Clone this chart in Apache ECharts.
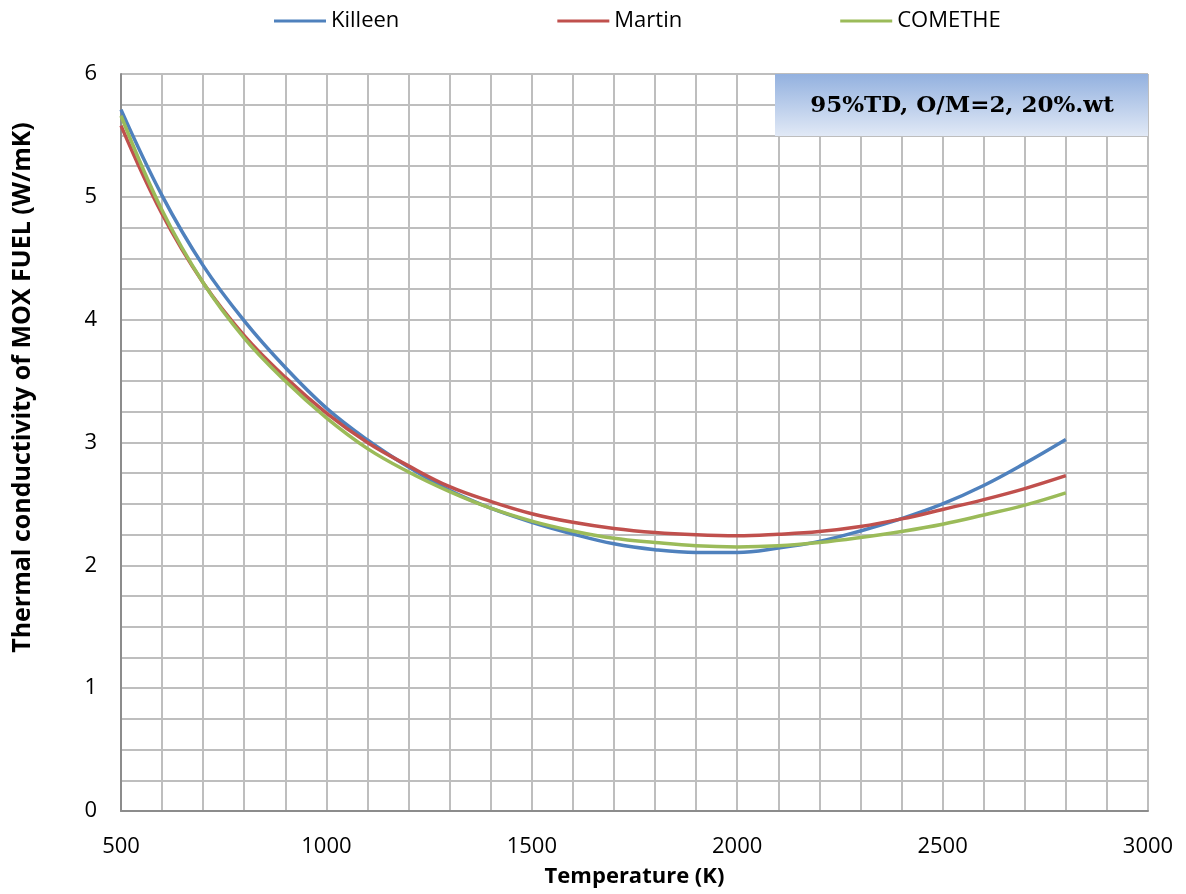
<!DOCTYPE html>
<html>
<head>
<meta charset="utf-8">
<script src="https://cdn.jsdelivr.net/npm/echarts@6/dist/echarts.min.js"></script>
<style>
html,body{margin:0;padding:0;background:#fff;}
#chart{width:1186px;height:894px;}
</style>
</head>
<body>
<div id="chart"></div>
<script>
const temperatures = [500,600,700,800,900,1000,1100,1200,1300,1400,1500,1600,1700,1800,1900,2000,2100,2200,2300,2400,2500,2600,2700,2800];
const killeen = [5.71,5.01,4.44,3.99,3.61,3.28,3.02,2.80,2.61,2.465,2.35,2.255,2.175,2.127,2.105,2.105,2.14,2.195,2.28,2.38,2.50,2.65,2.83,3.025];
const martin  = [5.58,4.86,4.30,3.87,3.53,3.24,3.00,2.81,2.64,2.52,2.42,2.35,2.30,2.267,2.248,2.24,2.253,2.275,2.316,2.378,2.455,2.535,2.625,2.73];
const comethe = [5.66,4.89,4.30,3.85,3.50,3.20,2.95,2.76,2.60,2.465,2.36,2.28,2.22,2.186,2.159,2.15,2.159,2.186,2.227,2.276,2.335,2.41,2.49,2.59];
const seriesNames = ['Killeen','Martin','COMETHE'];
const seriesColors = ['#4F81BD','#C0504D','#9BBB59'];
const xTickLabels = [500,1000,1500,2000,2500,3000];
const yTickLabels = [0,1,2,3,4,5,6];
const annotationText = '95%TD, O/M=2, 20%.wt';

const allSeries = [killeen, martin, comethe];
const FONT = 'Open Sans';

const chart = echarts.init(document.getElementById('chart'));
chart.setOption({
  backgroundColor: '#ffffff',
  animation: false,
  legend: {
    top: 5,
    left: 269,
    icon: 'rect',
    itemWidth: 52,
    itemHeight: 3,
    itemGap: 158,
    textStyle: { fontFamily: FONT, fontSize: 22, color: '#000' },
    data: seriesNames
  },
  grid: { left: 121, right: 38, top: 74, bottom: 83 },
  xAxis: {
    type: 'value',
    min: 500, max: 3000, interval: 100,
    name: 'Temperature (K)',
    nameLocation: 'middle',
    nameGap: 55,
    nameTextStyle: { fontFamily: FONT, fontSize: 22, fontWeight: 'bold', color: '#000' },
    axisLine: { show: true, lineStyle: { color: '#8C8C8C', width: 2 } },
    axisTick: { show: false },
    axisLabel: {
      margin: 25,
      fontFamily: FONT, fontSize: 22, color: '#000',
      formatter: v => xTickLabels.includes(v) ? String(v) : ''
    },
    splitLine: { show: true, lineStyle: { color: '#BEBEBE', width: 2 } }
  },
  yAxis: {
    type: 'value',
    min: 0, max: 6, interval: 0.25,
    name: 'Thermal conductivity of MOX FUEL (W/mK)',
    nameLocation: 'middle',
    nameGap: 86,
    nameTextStyle: { fontFamily: FONT, fontSize: 25, fontWeight: 'bold', color: '#000', padding: [0, 0, 0, 110] },
    axisLine: { show: true, lineStyle: { color: '#8C8C8C', width: 2 } },
    axisTick: { show: false },
    axisLabel: {
      margin: 24,
      fontFamily: FONT, fontSize: 22, color: '#000',
      formatter: v => yTickLabels.includes(v) ? String(v) : ''
    },
    splitLine: { show: true, lineStyle: { color: '#BEBEBE', width: 2 } }
  },
  graphic: [{
    type: 'group',
    left: 775, top: 74,
    z: 100,
    children: [{
      type: 'rect',
      z: 100,
      shape: { x: 0, y: 0, width: 373, height: 62 },
      style: {
        fill: new echarts.graphic.LinearGradient(0, 0, 0, 1, [
          { offset: 0, color: '#93B1DF' },
          { offset: 1, color: '#E1E9F6' }
        ])
      }
    }, {
      type: 'text',
      z: 101,
      x: 187, y: 32,
      style: {
        text: annotationText,
        fontFamily: 'DejaVu Serif', fontWeight: 'bold', fontSize: 23,
        fill: '#000', align: 'center', verticalAlign: 'middle'
      }
    }]
  }],
  series: seriesNames.map((name, i) => ({
    name,
    type: 'line',
    smooth: 0.4,
    symbol: 'none',
    lineStyle: { color: seriesColors[i], width: 3.5 },
    itemStyle: { color: seriesColors[i] },
    data: temperatures.map((t, j) => [t, allSeries[i][j]])
  }))
});
</script>
</body>
</html>
